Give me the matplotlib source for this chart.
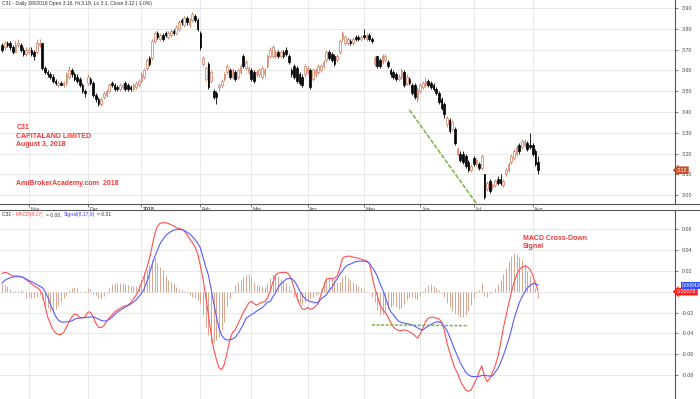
import numpy as np
import pandas as pd
import matplotlib
matplotlib.use('Agg')
import matplotlib.pyplot as plt
import matplotlib.transforms as mtransforms
from matplotlib.lines import Line2D

plt.rcParams['font.family'] = ['Liberation Sans', 'DejaVu Sans']

# SGX trading days shown on the chart
holidays = ['2017-10-18', '2017-12-25', '2018-01-01', '2018-02-16',
            '2018-03-30', '2018-05-01', '2018-05-29', '2018-06-15']
dates = pd.bdate_range('2017-10-17', '2018-08-03', freq='C', holidays=holidays)

opens = [
    3.72, 3.71, 3.73, 3.73, 3.71, 3.69, 3.72, 3.72, 3.70, 3.68,
    3.69, 3.70, 3.69, 3.69, 3.72, 3.73, 3.61, 3.59, 3.58, 3.57,
    3.55, 3.53, 3.54, 3.53, 3.54, 3.57, 3.60, 3.58, 3.57, 3.56,
    3.53, 3.50, 3.54, 3.56, 3.54, 3.48, 3.46, 3.44, 3.47, 3.48,
    3.50, 3.54, 3.53, 3.52, 3.51, 3.52, 3.54, 3.53, 3.52, 3.51,
    3.52, 3.53, 3.55, 3.57, 3.61, 3.66, 3.66, 3.74, 3.78, 3.75,
    3.77, 3.78, 3.76, 3.77, 3.79, 3.78, 3.80, 3.84, 3.82, 3.85,
    3.82, 3.84, 3.86, 3.84, 3.78, 3.63, 3.56, 3.63, 3.55, 3.50,
    3.49, 3.52, 3.53, 3.56, 3.59, 3.60, 3.57, 3.59, 3.57, 3.59,
    3.67, 3.61, 3.59, 3.60, 3.59, 3.58, 3.58, 3.57, 3.58, 3.62,
    3.67, 3.67, 3.67, 3.69, 3.67, 3.69, 3.70, 3.67, 3.60, 3.62,
    3.61, 3.58, 3.57, 3.58, 3.59, 3.60, 3.56, 3.58, 3.59, 3.60,
    3.62, 3.65, 3.69, 3.68, 3.67, 3.65, 3.69, 3.75, 3.73, 3.73,
    3.74, 3.73, 3.76, 3.76, 3.75, 3.77, 3.75, 3.77, 3.75, 3.63,
    3.67, 3.65, 3.64, 3.65, 3.64, 3.60, 3.59, 3.58, 3.56, 3.57,
    3.59, 3.54, 3.56, 3.53, 3.53, 3.46, 3.50, 3.52, 3.53, 3.55,
    3.54, 3.53, 3.51, 3.49, 3.46, 3.44, 3.34, 3.36, 3.32, 3.32,
    3.20, 3.20, 3.20, 3.19, 3.16, 3.12, 3.18, 3.15, 3.15, 3.13,
    3.10, 3.03, 3.07, 3.04, 3.05, 3.08, 3.08, 3.05, 3.10, 3.12,
    3.16, 3.18, 3.20, 3.24, 3.23, 3.24, 3.25, 3.24, 3.24, 3.21,
    3.16]
highs = [
    3.73, 3.74, 3.74, 3.74, 3.72, 3.74, 3.75, 3.73, 3.71, 3.71,
    3.71, 3.71, 3.70, 3.75, 3.75, 3.73, 3.62, 3.60, 3.59, 3.58,
    3.56, 3.55, 3.55, 3.55, 3.59, 3.62, 3.61, 3.59, 3.58, 3.57,
    3.54, 3.51, 3.58, 3.57, 3.55, 3.49, 3.47, 3.47, 3.50, 3.51,
    3.54, 3.55, 3.54, 3.53, 3.54, 3.54, 3.55, 3.54, 3.53, 3.54,
    3.55, 3.56, 3.59, 3.61, 3.66, 3.67, 3.75, 3.79, 3.79, 3.78,
    3.78, 3.79, 3.79, 3.80, 3.80, 3.82, 3.84, 3.85, 3.86, 3.86,
    3.85, 3.88, 3.87, 3.85, 3.79, 3.67, 3.62, 3.64, 3.60, 3.51,
    3.50, 3.54, 3.56, 3.59, 3.63, 3.61, 3.61, 3.60, 3.61, 3.63,
    3.68, 3.65, 3.62, 3.61, 3.60, 3.60, 3.61, 3.62, 3.61, 3.68,
    3.71, 3.72, 3.70, 3.70, 3.70, 3.70, 3.71, 3.68, 3.61, 3.63,
    3.62, 3.59, 3.58, 3.63, 3.62, 3.61, 3.61, 3.61, 3.63, 3.63,
    3.65, 3.70, 3.70, 3.69, 3.68, 3.68, 3.75, 3.79, 3.77, 3.76,
    3.75, 3.76, 3.77, 3.77, 3.77, 3.80, 3.78, 3.78, 3.76, 3.67,
    3.67, 3.66, 3.68, 3.68, 3.65, 3.61, 3.60, 3.59, 3.58, 3.61,
    3.60, 3.58, 3.57, 3.54, 3.54, 3.52, 3.54, 3.55, 3.57, 3.56,
    3.55, 3.54, 3.52, 3.50, 3.47, 3.45, 3.38, 3.37, 3.36, 3.33,
    3.23, 3.21, 3.21, 3.20, 3.17, 3.15, 3.19, 3.18, 3.16, 3.20,
    3.10, 3.07, 3.08, 3.06, 3.08, 3.09, 3.10, 3.08, 3.13, 3.16,
    3.20, 3.22, 3.24, 3.25, 3.27, 3.27, 3.26, 3.30, 3.25, 3.22,
    3.19]
lows = [
    3.69, 3.70, 3.71, 3.70, 3.68, 3.69, 3.71, 3.69, 3.67, 3.67,
    3.68, 3.67, 3.65, 3.68, 3.71, 3.60, 3.58, 3.57, 3.56, 3.54,
    3.53, 3.52, 3.53, 3.52, 3.53, 3.56, 3.57, 3.55, 3.54, 3.52,
    3.49, 3.47, 3.53, 3.53, 3.47, 3.45, 3.43, 3.43, 3.46, 3.47,
    3.49, 3.52, 3.50, 3.50, 3.50, 3.51, 3.50, 3.50, 3.50, 3.50,
    3.51, 3.52, 3.54, 3.56, 3.60, 3.62, 3.65, 3.73, 3.75, 3.74,
    3.74, 3.76, 3.75, 3.76, 3.77, 3.77, 3.79, 3.82, 3.81, 3.82,
    3.81, 3.83, 3.83, 3.79, 3.70, 3.62, 3.55, 3.51, 3.54, 3.46,
    3.44, 3.50, 3.52, 3.55, 3.58, 3.56, 3.56, 3.55, 3.56, 3.58,
    3.61, 3.60, 3.58, 3.55, 3.54, 3.57, 3.57, 3.56, 3.57, 3.61,
    3.66, 3.66, 3.66, 3.66, 3.66, 3.66, 3.67, 3.63, 3.57, 3.56,
    3.54, 3.53, 3.52, 3.57, 3.58, 3.51, 3.55, 3.57, 3.58, 3.59,
    3.61, 3.64, 3.65, 3.64, 3.62, 3.64, 3.68, 3.74, 3.72, 3.72,
    3.72, 3.72, 3.74, 3.74, 3.74, 3.75, 3.74, 3.74, 3.73, 3.62,
    3.61, 3.61, 3.63, 3.64, 3.61, 3.57, 3.56, 3.55, 3.55, 3.56,
    3.52, 3.53, 3.53, 3.48, 3.46, 3.45, 3.49, 3.51, 3.52, 3.52,
    3.51, 3.50, 3.48, 3.44, 3.41, 3.37, 3.33, 3.30, 3.31, 3.24,
    3.19, 3.16, 3.15, 3.13, 3.11, 3.11, 3.14, 3.14, 3.12, 3.12,
    2.98, 3.02, 3.01, 3.03, 3.04, 3.05, 3.05, 3.04, 3.09, 3.11,
    3.15, 3.17, 3.19, 3.20, 3.22, 3.23, 3.21, 3.22, 3.19, 3.14,
    3.10]
closes = [
    3.70, 3.73, 3.72, 3.71, 3.69, 3.72, 3.73, 3.70, 3.68, 3.70,
    3.70, 3.68, 3.67, 3.73, 3.73, 3.61, 3.59, 3.58, 3.57, 3.55,
    3.54, 3.54, 3.53, 3.54, 3.58, 3.60, 3.58, 3.56, 3.55, 3.53,
    3.50, 3.49, 3.57, 3.54, 3.48, 3.46, 3.44, 3.46, 3.49, 3.50,
    3.53, 3.53, 3.51, 3.51, 3.53, 3.53, 3.51, 3.51, 3.51, 3.53,
    3.54, 3.55, 3.58, 3.60, 3.65, 3.63, 3.74, 3.78, 3.76, 3.77,
    3.75, 3.77, 3.78, 3.79, 3.78, 3.81, 3.83, 3.83, 3.85, 3.83,
    3.84, 3.87, 3.84, 3.80, 3.71, 3.66, 3.61, 3.52, 3.59, 3.47,
    3.47, 3.53, 3.55, 3.58, 3.62, 3.57, 3.60, 3.56, 3.60, 3.62,
    3.62, 3.64, 3.61, 3.56, 3.55, 3.59, 3.60, 3.61, 3.60, 3.67,
    3.70, 3.71, 3.69, 3.67, 3.69, 3.67, 3.68, 3.64, 3.58, 3.57,
    3.55, 3.54, 3.53, 3.62, 3.61, 3.52, 3.60, 3.60, 3.62, 3.62,
    3.64, 3.69, 3.66, 3.65, 3.63, 3.67, 3.74, 3.78, 3.76, 3.75,
    3.73, 3.75, 3.75, 3.75, 3.76, 3.76, 3.77, 3.75, 3.74, 3.66,
    3.62, 3.62, 3.67, 3.67, 3.62, 3.58, 3.57, 3.56, 3.57, 3.60,
    3.53, 3.57, 3.54, 3.49, 3.47, 3.51, 3.53, 3.54, 3.55, 3.53,
    3.52, 3.51, 3.49, 3.45, 3.42, 3.39, 3.37, 3.31, 3.35, 3.25,
    3.22, 3.17, 3.16, 3.14, 3.12, 3.14, 3.15, 3.17, 3.13, 3.19,
    2.99, 3.06, 3.02, 3.05, 3.07, 3.06, 3.06, 3.07, 3.12, 3.15,
    3.19, 3.21, 3.23, 3.21, 3.26, 3.26, 3.22, 3.23, 3.20, 3.15,
    3.12]

macd = [
    0.0175, 0.0185, 0.0180, 0.0165, 0.0150, 0.0150, 0.0150, 0.0145, 0.0135, 0.0115,
    0.0095, 0.0075, 0.0055, 0.0040, 0.0020, -0.0020, -0.0130, -0.0240, -0.0305, -0.0360,
    -0.0395, -0.0410, -0.0410, -0.0390, -0.0340, -0.0290, -0.0245, -0.0215, -0.0220, -0.0245,
    -0.0250, -0.0240, -0.0195, -0.0195, -0.0240, -0.0300, -0.0340, -0.0345, -0.0325, -0.0285,
    -0.0250, -0.0225, -0.0195, -0.0175, -0.0160, -0.0145, -0.0135, -0.0128, -0.0105, -0.0070,
    -0.0035, 0.0015, 0.0080, 0.0145, 0.0225, 0.0315, 0.0435, 0.0555, 0.0628, 0.0655,
    0.0660, 0.0660, 0.0654, 0.0642, 0.0628, 0.0614, 0.0604, 0.0598, 0.0580, 0.0545,
    0.0508, 0.0470, 0.0430, 0.0365, 0.0250, 0.0120, -0.0040, -0.0220, -0.0400, -0.0550,
    -0.0650, -0.0730, -0.0745, -0.0690, -0.0580, -0.0460, -0.0390, -0.0365, -0.0310, -0.0255,
    -0.0200, -0.0155, -0.0110, -0.0092, -0.0115, -0.0128, -0.0115, -0.0100, -0.0096, -0.0060,
    0.0000, 0.0085, 0.0155, 0.0178, 0.0182, 0.0185, 0.0185, 0.0170, 0.0120, 0.0030,
    -0.0048, -0.0120, -0.0165, -0.0170, -0.0150, -0.0170, -0.0160, -0.0140, -0.0110, -0.0030,
    0.0050, 0.0120, 0.0125, 0.0128, 0.0128, 0.0150, 0.0220, 0.0320, 0.0335, 0.0340,
    0.0340, 0.0330, 0.0325, 0.0320, 0.0312, 0.0305, 0.0295, 0.0275, 0.0160, 0.0040,
    -0.0035, -0.0128, -0.0170, -0.0200, -0.0240, -0.0295, -0.0335, -0.0360, -0.0370, -0.0372,
    -0.0365, -0.0370, -0.0385, -0.0400, -0.0420, -0.0445, -0.0405, -0.0350, -0.0287, -0.0255,
    -0.0245, -0.0245, -0.0252, -0.0260, -0.0287, -0.0367, -0.0490, -0.0574, -0.0660, -0.0734,
    -0.0780, -0.0850, -0.0900, -0.0940, -0.0954, -0.0940, -0.0890, -0.0836, -0.0766, -0.0710,
    -0.0810, -0.0860, -0.0830, -0.0775, -0.0710, -0.0625, -0.0500, -0.0355, -0.0235, -0.0120,
    -0.0010, 0.0090, 0.0160, 0.0210, 0.0235, 0.0246, 0.0238, 0.0215, 0.0160, 0.0085,
    0.0008]
signal = [
    0.0080, 0.0108, 0.0122, 0.0134, 0.0140, 0.0144, 0.0144, 0.0144, 0.0134, 0.0120,
    0.0108, 0.0096, 0.0082, 0.0068, 0.0055, 0.0040, 0.0005, -0.0050, -0.0115, -0.0180,
    -0.0235, -0.0270, -0.0290, -0.0293, -0.0288, -0.0284, -0.0280, -0.0265, -0.0255, -0.0252,
    -0.0250, -0.0248, -0.0245, -0.0242, -0.0240, -0.0250, -0.0262, -0.0275, -0.0280, -0.0280,
    -0.0265, -0.0245, -0.0220, -0.0195, -0.0178, -0.0162, -0.0148, -0.0134, -0.0118, -0.0100,
    -0.0078, -0.0050, -0.0018, 0.0025, 0.0090, 0.0170, 0.0260, 0.0335, 0.0400, 0.0460,
    0.0500, 0.0535, 0.0558, 0.0575, 0.0588, 0.0594, 0.0596, 0.0595, 0.0585, 0.0570,
    0.0553, 0.0528, 0.0500, 0.0465, 0.0420, 0.0330, 0.0240, 0.0160, 0.0030, -0.0110,
    -0.0240, -0.0350, -0.0420, -0.0450, -0.0462, -0.0462, -0.0452, -0.0438, -0.0402, -0.0360,
    -0.0315, -0.0255, -0.0237, -0.0220, -0.0205, -0.0185, -0.0170, -0.0155, -0.0130, -0.0098,
    -0.0096, -0.0052, -0.0012, 0.0038, 0.0075, 0.0096, 0.0120, 0.0127, 0.0125, 0.0105,
    0.0064, 0.0010, -0.0030, -0.0065, -0.0085, -0.0095, -0.0100, -0.0107, -0.0102, -0.0070,
    -0.0050, -0.0030, 0.0010, 0.0040, 0.0085, 0.0120, 0.0165, 0.0200, 0.0235, 0.0255,
    0.0265, 0.0277, 0.0287, 0.0292, 0.0293, 0.0293, 0.0288, 0.0275, 0.0235, 0.0200,
    0.0150, 0.0080, 0.0020, -0.0050, -0.0130, -0.0190, -0.0220, -0.0255, -0.0282, -0.0295,
    -0.0300, -0.0305, -0.0312, -0.0318, -0.0330, -0.0345, -0.0360, -0.0366, -0.0345, -0.0330,
    -0.0315, -0.0300, -0.0290, -0.0287, -0.0300, -0.0330, -0.0370, -0.0430, -0.0495, -0.0560,
    -0.0620, -0.0680, -0.0725, -0.0770, -0.0795, -0.0810, -0.0813, -0.0813, -0.0810, -0.0803,
    -0.0800, -0.0805, -0.0807, -0.0806, -0.0770, -0.0735, -0.0680, -0.0615, -0.0540, -0.0460,
    -0.0370, -0.0265, -0.0185, -0.0105, -0.0050, -0.0005, 0.0035, 0.0060, 0.0076, 0.0078,
    0.0064]
hist = [
    0.0075, 0.0062, 0.0050, 0.0028, 0.0008, 0.0007, 0.0007, 0.0012, 0.0006, -0.0060,
    -0.0050, -0.0062, -0.0062, -0.0048, -0.0032, -0.0070, -0.0140, -0.0160, -0.0188, -0.0188,
    -0.0170, -0.0128, -0.0100, -0.0065, -0.0030, 0.0018, 0.0035, 0.0048, 0.0035, 0.0010,
    -0.0006, 0.0008, 0.0040, 0.0025, -0.0018, -0.0035, -0.0064, -0.0068, -0.0040, -0.0008,
    0.0035, 0.0075, 0.0080, 0.0086, 0.0080, 0.0080, 0.0070, 0.0064, 0.0058, 0.0050,
    0.0052, 0.0060, 0.0110, 0.0190, 0.0210, 0.0255, 0.0300, 0.0320, 0.0270, 0.0240,
    0.0210, 0.0160, 0.0110, 0.0095, 0.0080, 0.0048, 0.0026, 0.0012, 0.0006, -0.0016,
    -0.0030, -0.0050, -0.0065, -0.0080, -0.0110, -0.0220, -0.0335, -0.0415, -0.0490, -0.0480,
    -0.0460, -0.0430, -0.0370, -0.0290, -0.0140, -0.0060, -0.0010, 0.0064, 0.0096, 0.0110,
    0.0144, 0.0160, 0.0166, 0.0144, 0.0096, 0.0064, 0.0064, 0.0058, 0.0048, 0.0080,
    0.0128, 0.0166, 0.0166, 0.0150, 0.0125, 0.0105, 0.0080, 0.0055, 0.0020, -0.0048,
    -0.0090, -0.0112, -0.0118, -0.0100, -0.0080, -0.0065, -0.0050, -0.0035, -0.0020, 0.0030,
    0.0100, 0.0144, 0.0138, 0.0128, 0.0110, 0.0096, 0.0096, 0.0144, 0.0160, 0.0130,
    0.0110, 0.0090, 0.0075, 0.0055, 0.0040, 0.0025, 0.0010, -0.0005, -0.0048, -0.0100,
    -0.0175, -0.0220, -0.0215, -0.0190, -0.0165, -0.0150, -0.0130, -0.0150, -0.0165, -0.0160,
    -0.0120, -0.0080, -0.0060, -0.0050, -0.0062, -0.0080, -0.0040, 0.0010, 0.0040, 0.0064,
    0.0070, 0.0050, 0.0035, 0.0020, -0.0010, -0.0048, -0.0110, -0.0144, -0.0180, -0.0207,
    -0.0225, -0.0240, -0.0245, -0.0220, -0.0180, -0.0130, -0.0064, -0.0010, 0.0016, 0.0086,
    -0.0045, -0.0050, -0.0010, 0.0010, 0.0040, 0.0075, 0.0110, 0.0165, 0.0230, 0.0290,
    0.0345, 0.0367, 0.0360, 0.0335, 0.0300, 0.0265, 0.0200, 0.0155, 0.0100, 0.0040,
    -0.0060]

# hand-drawn green trend lines
price_trend_dates = ['2018-05-25', '2018-07-03']
price_trend_vals = [3.41, 2.96]
macd_trend_dates = ['2018-05-07', '2018-06-28']
macd_trend_vals = [-0.0318, -0.0325]

last_price = 3.12
last_signal_txt = '0.006420'
last_macd_txt = '0.00078'

# ---------------------------------------------------------------
o = np.array(opens); h = np.array(highs); l = np.array(lows); c = np.array(closes)
idx = np.arange(len(dates))
up = c >= o

month_pos = [i for i in range(1, len(dates)) if dates[i].month != dates[i - 1].month]
month_lbl = [dates[i].strftime('%Y') if dates[i].month == 1 else dates[i].strftime('%b')
             for i in month_pos]

def pos(d):
    return dates.get_loc(pd.Timestamp(d))

W, H = 700, 399
fig = plt.figure(figsize=(W / 100, H / 100), dpi=100, facecolor='white')
ax1 = fig.add_axes([0, 1 - 203.5 / H, 675 / W, 203.5 / H])
ax2 = fig.add_axes([0, 0, 675 / W, 1 - 210 / H])

up_col = '#d4785a'
grid_col = '#e4e4e4'

for ax in (ax1, ax2):
    ax.set_xlim(-0.75, 251.1)
    ax.set_xticks(month_pos)
    ax.grid(True, color=grid_col, lw=0.6)
    ax.set_axisbelow(True)
    ax.yaxis.tick_right()
    ax.tick_params(axis='y', labelsize=3.8, length=2, pad=3, colors='#444444', width=0.5)
    for s in ('left', 'top', 'bottom'):
        ax.spines[s].set_visible(False)
    ax.spines['right'].set_color('#555555')
    ax.spines['right'].set_linewidth(0.8)

# panel dividers run across the whole picture
for yp in (203.5, 210):
    fig.add_artist(Line2D([0, 1], [1 - yp / H, 1 - yp / H], color='#555555', lw=0.8))

# price panel
ax1.vlines(idx, l, h, colors=np.where(up, up_col, 'black'), lw=0.6, zorder=2)
ax1.bar(idx, np.abs(c - o), bottom=np.minimum(o, c), width=0.62,
        color=np.where(up, 'white', 'black'), edgecolor=np.where(up, up_col, 'black'),
        linewidth=0.5, zorder=3)
ax1.set_ylim(2.960, 3.938)
ax1.set_yticks(np.round(np.arange(3.0, 3.95, 0.1), 2))
ax1.yaxis.set_major_formatter(matplotlib.ticker.FormatStrFormatter('%.2f'))
ax1.set_xticklabels(month_lbl)
ax1.tick_params(axis='x', labelsize=3.8, length=2.5, pad=0.3, colors='#444444', width=0.5)
shift = mtransforms.ScaledTranslation(1.2 / 72, 0, fig.dpi_scale_trans)
for lab in ax1.get_xticklabels():
    lab.set_ha('left')
    lab.set_transform(lab.get_transform() + shift)
    if lab.get_text() == '2018':
        lab.set_fontweight('bold')

ax1.plot([pos(d) for d in price_trend_dates], price_trend_vals, color='#7cb342',
         lw=1.1, ls=(0, (3, 1)), zorder=4, clip_on=False)

red = '#ee3b3b'
for txt, yp in [('C31', 127.7), ('CAPITALAND LIMITED', 136.3), ('August 3, 2018', 144.7),
                ('AmiBrokerAcademy.com  2018', 183.3)]:
    fig.text(16.5 / W, 1 - yp / H, txt, color=red, fontsize=5, fontweight='bold', va='center')

fig.text(2 / W, 1 - 4 / H, 'C31 - Daily 3/8/2018 Open 3.16, Hi 3.19, Lo 3.1, Close 3.12 (-1.0%)',
         fontsize=3.6, color='#333333', va='center')

ax1.text(1.003, last_price, f'{last_price:.2f}', transform=ax1.get_yaxis_transform(),
         fontsize=3.8, color='white', va='center', ha='left', zorder=10, clip_on=False,
         bbox=dict(boxstyle='larrow,pad=0.25', fc='#c4502d', ec='none'))

# MACD panel
ax2.vlines(idx, 0, hist, colors='#d9a58f', lw=0.7, zorder=2)
ax2.plot(idx, macd, color='#ff5050', lw=0.8, zorder=3)
ax2.plot(idx, signal, color='#5a5aff', lw=0.8, zorder=3)
ax2.plot([pos(d) for d in macd_trend_dates], macd_trend_vals, color='#7cb342',
         lw=1.1, ls=(0, (2, 1)), zorder=4)
ax2.set_ylim(-0.1027, 0.0782)
mt = [0.06, 0.04, 0.02, 0.0, -0.02, -0.04, -0.06, -0.08]
ax2.set_yticks(mt)
ax2.set_yticklabels(['0' if v == 0 else f'{v:.2f}' for v in mt])
ax2.tick_params(axis='x', length=0, labelbottom=False)

ax2.text(1.003, macd[-1] - 0.0008, last_macd_txt, transform=ax2.get_yaxis_transform(),
         fontsize=3.8, color='white', va='center', ha='left', zorder=10, clip_on=False,
         bbox=dict(boxstyle='larrow,pad=0.25', fc='#ff2020', ec='none'))
ax2.text(1.010, signal[-1], last_signal_txt, transform=ax2.get_yaxis_transform(),
         fontsize=3.6, color='white', va='center', ha='left', zorder=11, clip_on=False,
         bbox=dict(boxstyle='square,pad=0.2', fc='#3050ff', ec='none'))

fig.text(523 / W, 1 - 238 / H, 'MACD Cross-Down', color=red, fontsize=5, fontweight='bold',
         va='center')
fig.text(523 / W, 1 - 246.7 / H, 'Signal', color=red, fontsize=5, fontweight='bold', va='center')

# coloured legend line of the MACD panel, each piece placed after the previous one
parts = [('C31 -', '#333333'), ('MACD(8,17)', '#ff4040'), ('= 0.00,', '#333333'),
         ('Signal(8,17,9)', '#4040ff'), ('= 0.01', '#333333')]
renderer = fig.canvas.get_renderer()
x = 2 / W
for s, col in parts:
    t = fig.text(x, 1 - 214.3 / H, s, color=col, fontsize=3.6, va='center')
    bb = t.get_window_extent(renderer)
    x = (bb.x1 + 2.0) / fig.bbox.width

fig.savefig('out.png', dpi=100, facecolor='white')
